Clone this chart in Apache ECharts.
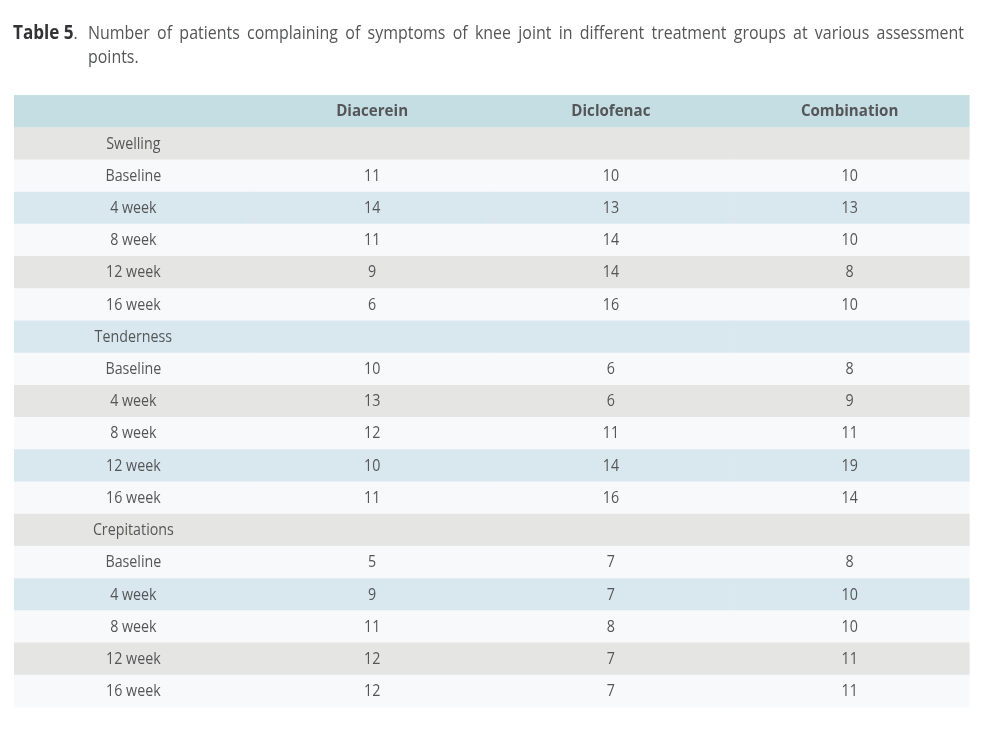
<!DOCTYPE html>
<html><head><meta charset="utf-8">
<script src="https://cdn.jsdelivr.net/npm/echarts@6/dist/echarts.min.js"></script>
<style>html,body{margin:0;padding:0;background:#fff}#c{width:985px;height:733px}</style>
</head><body><div id="c"></div>
<script>
// ---- data ----
const titleLabel = 'Table 5';
const titleLine1 = 'Number of patients complaining of symptoms of knee joint in different treatment groups at various assessment';
const titleLine2 = 'points.';
const columns = ['Diacerein', 'Diclofenac', 'Combination'];
const symptoms = ['Swelling', 'Tenderness', 'Crepitations'];
const timepoints = ['Baseline', '4 week', '8 week', '12 week', '16 week'];
const diacerein   = [11, 14, 11, 9, 6,   10, 13, 12, 10, 11,   5, 9, 11, 12, 12];
const diclofenac  = [10, 13, 14, 14, 16,  6, 6, 11, 14, 16,    7, 7, 8, 7, 7];
const combination = [10, 13, 10, 8, 10,   8, 9, 11, 19, 14,    8, 10, 10, 11, 11];

// ---- styling ----
const FONT = 'Open Sans';
const TXT = '#555658';
const C_HEAD = '#c4dee4', C_GRAY = '#e5e5e3', C_LIGHT = '#f8f9fb', C_BLUE = '#d9e8ef';
const BODY_FS = 16.8, BODY_SX = 0.85;

// build table rows
const rows = [{ cells: [''].concat(columns), header: true }];
symptoms.forEach((s, si) => {
  rows.push({ cells: [s, '', '', ''] });
  timepoints.forEach((t, ti) => {
    const k = si * timepoints.length + ti;
    rows.push({ cells: [t, String(diacerein[k]), String(diclofenac[k]), String(combination[k])] });
  });
});
function rowColor(r) {
  if (r === 0) return C_HEAD;
  const i = r - 1;
  if (i % 2 === 1) return C_LIGHT;
  return (i / 2) % 2 === 0 ? C_GRAY : C_BLUE;
}
const cellData = [];
rows.forEach((row, r) => row.cells.forEach((txt, c) => cellData.push([c, r])));

// title layout (justified first line)
const ctx = document.createElement('canvas').getContext('2d');
function w(text, font) { ctx.font = font; return ctx.measureText(text).width; }
const TFS = 19, TSX = 0.84, TBSX = 0.9;
const tFont = TFS + 'px "' + FONT + '"';
const tBold = 'bold ' + TFS + 'px "' + FONT + '"';
const graphics = [];
const Y1 = 33.5, Y2 = 57.5, LX = 13, IX = 88, RX = 964;
graphics.push({ type: 'text', x: LX, y: Y1, scaleX: TBSX, style: { text: titleLabel, font: tBold, fill: '#333335', verticalAlign: 'middle' } });
graphics.push({ type: 'text', x: LX + w(titleLabel, tBold) * TBSX, y: Y1, scaleX: TSX, style: { text: '.', font: tFont, fill: TXT, verticalAlign: 'middle' } });
const words = titleLine1.split(' ');
const total = words.reduce((a, x) => a + w(x, tFont) * TSX, 0);
const gap = (RX - IX - total) / (words.length - 1);
let cx = IX;
words.forEach(x => {
  graphics.push({ type: 'text', x: cx, y: Y1, scaleX: TSX, style: { text: x, font: tFont, fill: TXT, verticalAlign: 'middle' } });
  cx += w(x, tFont) * TSX + gap;
});
graphics.push({ type: 'text', x: IX, y: Y2, scaleX: TSX, style: { text: titleLine2, font: tFont, fill: TXT, verticalAlign: 'middle' } });

const chart = echarts.init(document.getElementById('c'), null, { renderer: 'canvas' });
chart.setOption({
  animation: false,
  backgroundColor: '#fff',
  graphic: graphics,
  grid: { left: 14, right: 16, top: 95, bottom: 26 },
  xAxis: { type: 'category', data: [0, 1, 2, 3], show: false },
  yAxis: { type: 'category', data: rows.map((_, i) => i), inverse: true, show: false },
  series: [{
    type: 'custom',
    data: cellData,
    renderItem: function (params, api) {
      const c = api.value(0), r = api.value(1);
      const p = api.coord([c, r]);
      const s = api.size([1, 1]);
      const row = rows[r];
      return {
        type: 'group',
        children: [
          { type: 'rect', shape: { x: p[0] - s[0] / 2, y: p[1] - s[1] / 2, width: s[0] + 0.6, height: s[1] + 0.6 }, style: { fill: rowColor(r) } },
          { type: 'text', x: p[0], y: p[1] + 0.5, scaleX: row.header ? 0.9 : BODY_SX, style: { text: row.cells[c], align: 'center', verticalAlign: 'middle', fontFamily: FONT, fontSize: BODY_FS, fontWeight: row.header ? 'bold' : 'normal', fill: TXT } }
        ]
      };
    }
  }]
});
</script></body></html>
